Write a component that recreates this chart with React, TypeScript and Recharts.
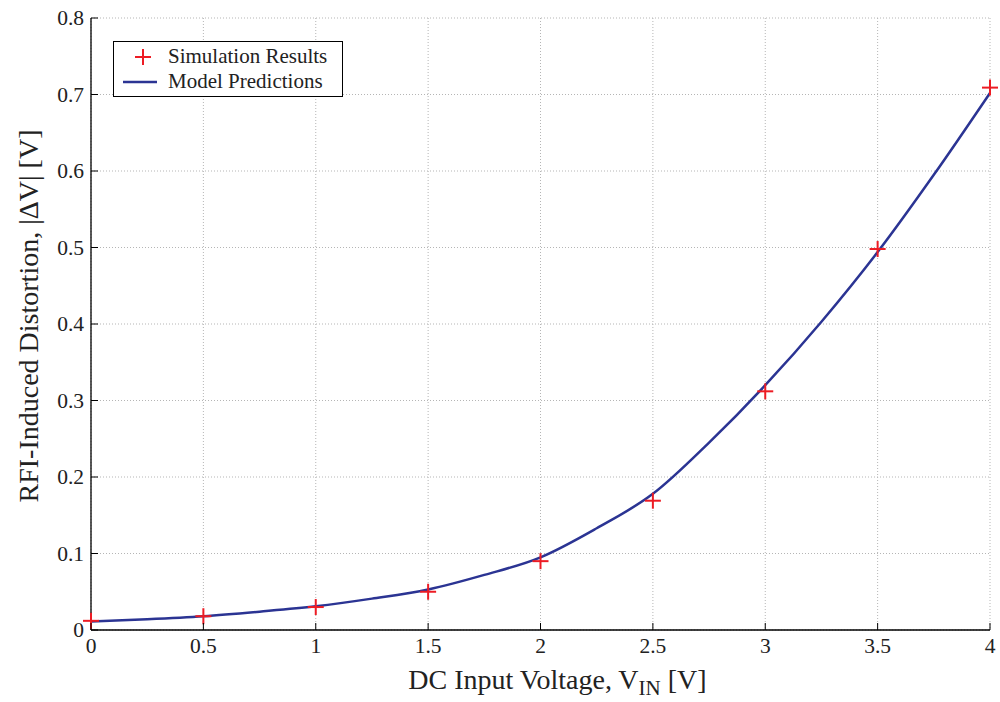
import React from 'react'
import {
  ComposedChart,
  Line,
  Scatter,
  XAxis,
  YAxis,
  CartesianGrid,
} from 'recharts'

// DC input voltage where simulations were run
const simVin = [0, 0.5, 1, 1.5, 2, 2.5, 3, 3.5, 4]
const simDistortion = [0.012, 0.018, 0.03, 0.05, 0.09, 0.169, 0.312, 0.498, 0.709]

// model curve, every 0.25 V
const modelVin = [0, 0.25, 0.5, 0.75, 1, 1.25, 1.5, 1.75, 2, 2.25, 2.5, 2.75, 3, 3.25, 3.5, 3.75, 4]
const modelDistortion = [
  0.011, 0.014, 0.018, 0.024, 0.031, 0.041, 0.053, 0.072, 0.095, 0.133, 0.178, 0.245, 0.32,
  0.403, 0.494, 0.595, 0.702,
]

const xTicks = [0, 0.5, 1, 1.5, 2, 2.5, 3, 3.5, 4]
const yTicks = [0, 0.1, 0.2, 0.3, 0.4, 0.5, 0.6, 0.7, 0.8]

const simData = simVin.map((v, i) => ({ vin: v, dv: simDistortion[i] }))
const modelData = modelVin.map((v, i) => ({ vin: v, dv: modelDistortion[i] }))

const FONT = '"Liberation Serif", "Times New Roman", serif'
const RED = '#ed1c24'
const BLUE = '#2b3493'
const TICK = 7

function BottomTick({ x, y, payload }: any) {
  return (
    <g>
      <line x1={x} y1={y} x2={x} y2={y - TICK} stroke="#000" />
      <text x={x} y={y + 23} textAnchor="middle" fontFamily={FONT} fontSize={21.5} fill="#222">
        {payload.value}
      </text>
    </g>
  )
}

function TopTick({ x, y }: any) {
  return <line x1={x} y1={y} x2={x} y2={y + TICK} stroke="#000" />
}

function LeftTick({ x, y, payload }: any) {
  return (
    <g>
      <line x1={x} y1={y} x2={x + TICK} y2={y} stroke="#000" />
      <text x={x - 7} y={y + 7} textAnchor="end" fontFamily={FONT} fontSize={21.5} fill="#222">
        {payload.value}
      </text>
    </g>
  )
}

function RightTick({ x, y }: any) {
  return <line x1={x} y1={y} x2={x - TICK} y2={y} stroke="#000" />
}

function PlusMarker({ cx, cy }: any) {
  return (
    <g stroke={RED} strokeWidth={2}>
      <line x1={cx - 8} y1={cy} x2={cx + 8} y2={cy} />
      <line x1={cx} y1={cy - 8} x2={cx} y2={cy + 8} />
    </g>
  )
}

function XTitle({ viewBox }: any) {
  const cx = viewBox.x + viewBox.width / 2 + 17
  return (
    <text x={cx} y={viewBox.y + 59} textAnchor="middle" fontFamily={FONT} fontSize={28} fill="#222">
      DC Input Voltage, V
      <tspan fontSize={21} dy={6}>IN</tspan>
      <tspan dy={-6}> [V]</tspan>
    </text>
  )
}

function YTitle({ viewBox }: any) {
  const cy = viewBox.y + viewBox.height / 2 - 8
  const x = 38
  return (
    <text
      x={x}
      y={cy}
      transform={`rotate(-90 ${x} ${cy})`}
      textAnchor="middle"
      fontFamily={FONT}
      fontSize={28}
      fill="#222"
    >
      RFI-Induced Distortion, |ΔV| [V]
    </text>
  )
}

function LegendBox() {
  return (
    <div
      style={{
        position: 'absolute',
        left: 113,
        top: 41,
        border: '1px solid #000',
        background: '#fff',
        width: 230,
        height: 56,
        boxSizing: 'border-box',
        fontFamily: FONT,
        fontSize: 21,
        color: '#222',
        paddingTop: 2,
      }}
    >
      <div style={{ display: 'flex', alignItems: 'center', height: 25 }}>
        <svg width={54} height={24}>
          <line x1={21} y1={12} x2={37} y2={12} stroke={RED} strokeWidth={2} />
          <line x1={29} y1={4} x2={29} y2={20} stroke={RED} strokeWidth={2} />
        </svg>
        <span>Simulation Results</span>
      </div>
      <div style={{ display: 'flex', alignItems: 'center', height: 25 }}>
        <svg width={54} height={24}>
          <line x1={9} y1={12} x2={43} y2={12} stroke={BLUE} strokeWidth={2.5} />
        </svg>
        <span>Model Predictions</span>
      </div>
    </div>
  )
}

export default function App() {
  return (
    <div style={{ position: 'absolute', left: 0, top: 0, width: 1000, height: 702, background: '#fff' }}>
      <ComposedChart width={1000} height={702} margin={{ top: 18, right: 10, bottom: 0, left: 0 }}>
        <CartesianGrid xAxisId="bottom" yAxisId="left" stroke="#b5b5b5" strokeDasharray="1 2" />
        <XAxis
          xAxisId="bottom"
          type="number"
          dataKey="vin"
          domain={[0, 4]}
          ticks={xTicks}
          height={72}
          tickSize={0}
          tickMargin={0}
          tickLine={false}
          axisLine={{ stroke: '#000', strokeWidth: 1.3 }}
          tick={<BottomTick />}
          label={{ content: <XTitle /> }}
        />
        <XAxis
          xAxisId="top"
          orientation="top"
          type="number"
          dataKey="vin"
          domain={[0, 4]}
          ticks={xTicks}
          height={0}
          tickSize={0}
          tickMargin={0}
          tickLine={false}
          axisLine={{ stroke: '#000', strokeWidth: 1.3 }}
          tick={<TopTick />}
        />
        <YAxis
          yAxisId="left"
          type="number"
          domain={[0, 0.8]}
          ticks={yTicks}
          width={91}
          tickSize={0}
          tickMargin={0}
          tickLine={false}
          axisLine={{ stroke: '#000', strokeWidth: 1.3 }}
          tick={<LeftTick />}
          label={{ content: <YTitle /> }}
        />
        <YAxis
          yAxisId="right"
          orientation="right"
          type="number"
          domain={[0, 0.8]}
          ticks={yTicks}
          width={0}
          tickSize={0}
          tickMargin={0}
          tickLine={false}
          axisLine={{ stroke: '#000', strokeWidth: 1.3 }}
          tick={<RightTick />}
        />
        <Line
          xAxisId="bottom"
          yAxisId="left"
          data={modelData}
          dataKey="dv"
          type="monotone"
          stroke={BLUE}
          strokeWidth={2.5}
          dot={false}
          isAnimationActive={false}
        />
        <Scatter
          xAxisId="bottom"
          yAxisId="left"
          data={simData}
          dataKey="dv"
          shape={<PlusMarker />}
          isAnimationActive={false}
        />
      </ComposedChart>
      <LegendBox />
    </div>
  )
}
